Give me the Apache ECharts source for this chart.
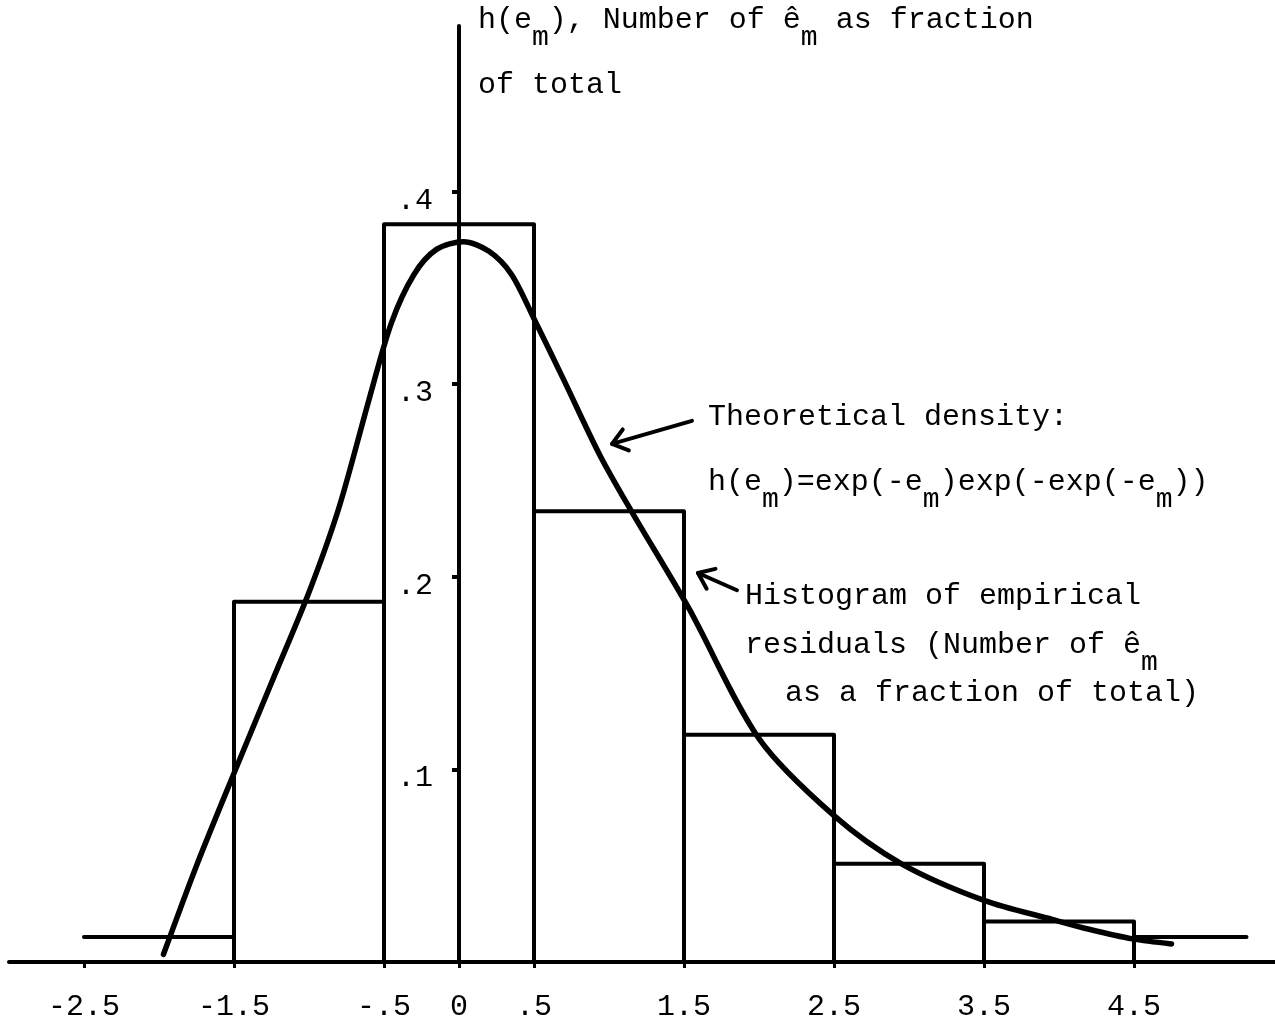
<!DOCTYPE html>
<html>
<head>
<meta charset="utf-8">
<title>Histogram of empirical residuals</title>
<script src="https://cdn.jsdelivr.net/npm/echarts@6/dist/echarts.min.js"></script>
<style>
  html, body { margin: 0; padding: 0; background: #fff; }
  #chart { width: 1275px; height: 1026px; }
</style>
</head>
<body>
<div id="chart"></div>
<script>
// histogram of empirical residuals: bin edges and fraction of total
const binStart = [-2.5, -1.5, -0.5, 0.5, 1.5, 2.5, 3.5, 4.5]
const binEnd = [-1.5, -0.5, 0.5, 1.5, 2.5, 3.5, 4.5, 5.25]
const binFraction = [0.013, 0.187, 0.383, 0.234, 0.118, 0.051, 0.021, 0.013]

// theoretical density h(e_m)
const curveX = [-1.97, -1.75, -1.5, -1.25, -1.0, -0.8, -0.6, -0.45, -0.3, -0.15, 0.03, 0.2, 0.35, 0.5, 0.7, 0.94, 1.15, 1.53, 2.0, 2.5, 2.95, 3.5, 3.96, 4.2, 4.49, 4.75]
const curveY = [0.004, 0.05, 0.098, 0.145, 0.192, 0.236, 0.292, 0.332, 0.357, 0.370, 0.374, 0.369, 0.357, 0.334, 0.302, 0.263, 0.234, 0.184, 0.116, 0.076, 0.051, 0.032, 0.022, 0.017, 0.012, 0.0094]

const xTickValues = [-2.5, -1.5, -0.5, 0, 0.5, 1.5, 2.5, 3.5, 4.5]
const xTickLabels = ['-2.5', '-1.5', '-.5', '0', '.5', '1.5', '2.5', '3.5', '4.5']
const yTickValues = [0.1, 0.2, 0.3, 0.4]
const yTickLabels = ['.1', '.2', '.3', '.4']

const xMin = -3
const xMax = 5.44
const gridLeft = 9
const gridRight = 0

const mono = '"Liberation Mono", "DejaVu Sans Mono", monospace'
const ink = '#000'

const chart = echarts.init(document.getElementById('chart'))
// the y axis sits at e = 0, so push it right from the grid's left edge
const plotWidth = 1275 - gridLeft - gridRight
const yAxisShift = (0 - xMin) / (xMax - xMin) * plotWidth

chart.setOption({
  animation: false,
  backgroundColor: '#fff',
  grid: { left: gridLeft, right: gridRight, top: 26, bottom: 64, containLabel: false, outerBoundsMode: 'none' },
  xAxis: {
    type: 'value',
    min: xMin,
    max: xMax,
    splitLine: { show: false },
    axisLine: { onZero: false, lineStyle: { color: ink, width: 4 } },
    axisTick: { customValues: xTickValues, length: 6, lineStyle: { color: ink, width: 3 } },
    axisLabel: {
      customValues: xTickValues,
      formatter: v => xTickLabels[xTickValues.indexOf(Math.round(v * 10) / 10)],
      fontFamily: mono,
      fontSize: 30,
      color: ink,
      margin: 30
    }
  },
  yAxis: {
    type: 'value',
    position: 'left',
    offset: -yAxisShift,
    min: 0,
    max: 0.486,
    splitLine: { show: false },
    axisLine: { onZero: false, lineStyle: { color: ink, width: 4 } },
    axisTick: { customValues: yTickValues, length: 7, lineStyle: { color: ink, width: 4 } },
    axisLabel: {
      customValues: yTickValues,
      // labels sit a little below their ticks in the original
      formatter: v => '{t|' + yTickLabels[yTickValues.indexOf(Math.round(v * 10) / 10)] + '}',
      margin: 26,
      rich: {
        t: { fontFamily: mono, fontSize: 30, color: ink, padding: [18, 0, 0, 0] }
      }
    }
  },
  series: [
    {
      type: 'custom',
      name: 'Histogram',
      encode: { x: [0, 1], y: 2 },
      data: binStart.map((s, i) => [s, binEnd[i], binFraction[i]]),
      renderItem (params, api) {
        const x0 = api.value(0)
        const x1 = api.value(1)
        const h = api.value(2)
        const open = params.dataIndex === 0 || params.dataIndex === binStart.length - 1
        const pts = open
          ? [api.coord([x0, h]), api.coord([x1, h])]
          : [api.coord([x0, 0]), api.coord([x0, h]), api.coord([x1, h]), api.coord([x1, 0])]
        return {
          type: 'polyline',
          shape: { points: pts },
          style: { stroke: ink, lineWidth: 4, fill: null, lineCap: 'round', lineJoin: 'round' }
        }
      },
      z: 3
    },
    {
      type: 'line',
      name: 'Theoretical density',
      data: curveX.map((x, i) => [x, curveY[i]]),
      showSymbol: false,
      smooth: 0.3,
      lineStyle: { color: ink, width: 5.5, cap: 'round' },
      z: 4
    }
  ]
})

// annotations
const rich = {
  n: { fontFamily: mono, fontSize: 30, color: ink },
  s: { fontFamily: mono, fontSize: 28, color: ink, padding: [36, 0, 0, 0] }
}
const notes = [
  ['{n|h(e}{s|m}{n|), Number of ê}{s|m}{n| as fraction}', 478, 20],
  ['{n|of total}', 478, 85],
  ['{n|Theoretical density:}', 708, 417],
  ['{n|h(e}{s|m}{n|)=exp(-e}{s|m}{n|)exp(-exp(-e}{s|m}{n|))}', 708, 482],
  ['{n|Histogram of empirical}', 745, 596],
  ['{n|residuals (Number of ê}{s|m}', 745, 645],
  ['{n|as a fraction of total)}', 785, 693]
]
const arrows = [
  { from: [1.553, 0.281], to: [1.02, 0.269] },
  { from: [1.853, 0.193], to: [1.593, 0.202] }
]

function arrowHead (tail, tip, len, ang) {
  const a = Math.atan2(tail[1] - tip[1], tail[0] - tip[0])
  return [
    [tip[0] + len * Math.cos(a + ang), tip[1] + len * Math.sin(a + ang)],
    tip,
    [tip[0] + len * Math.cos(a - ang), tip[1] + len * Math.sin(a - ang)]
  ]
}

const graphic = notes.map(n => ({
  type: 'text',
  x: n[1],
  y: n[2],
  style: { text: n[0], rich: rich, align: 'left', verticalAlign: 'middle' },
  z: 10
}))
arrows.forEach(a => {
  const tail = chart.convertToPixel({ gridIndex: 0 }, a.from)
  const tip = chart.convertToPixel({ gridIndex: 0 }, a.to)
  const lineStyle = { stroke: ink, lineWidth: 4, lineCap: 'round', lineJoin: 'round', fill: null }
  graphic.push({ type: 'polyline', shape: { points: [tail, tip] }, style: lineStyle, z: 10 })
  graphic.push({ type: 'polyline', shape: { points: arrowHead(tail, tip, 18, 0.65) }, style: lineStyle, z: 10 })
})
chart.setOption({ graphic: graphic })
</script>
</body>
</html>
